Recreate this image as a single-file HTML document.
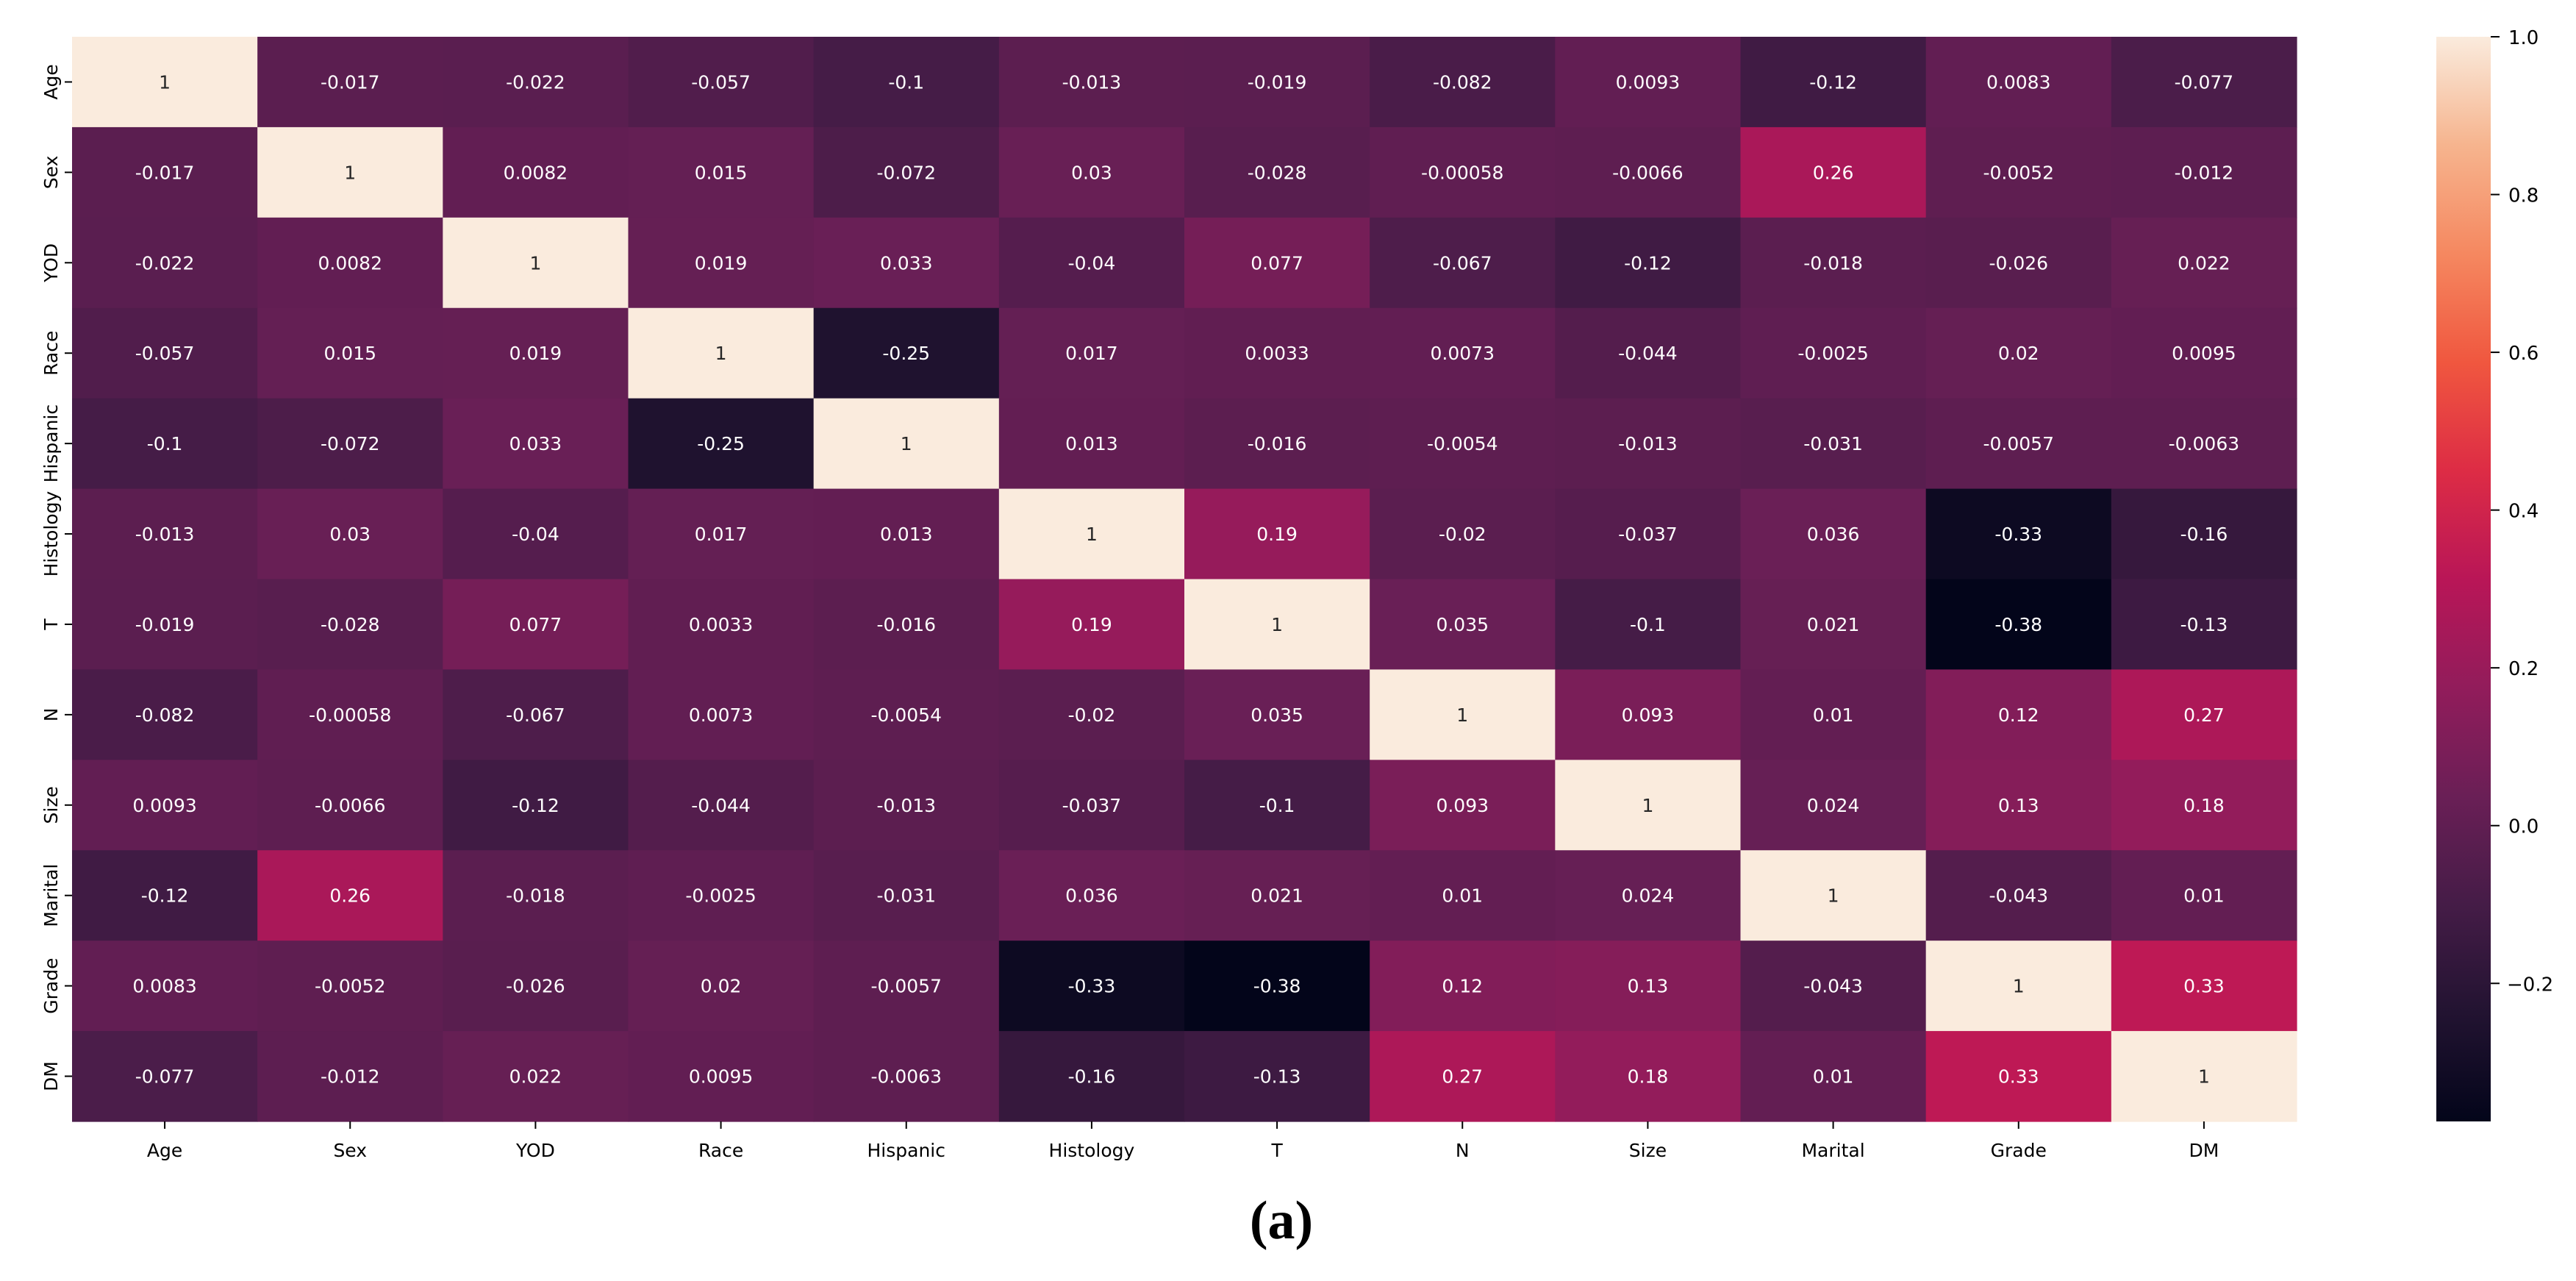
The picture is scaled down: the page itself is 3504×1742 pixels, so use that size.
<!DOCTYPE html>
<html><head><meta charset="utf-8"><style>
html,body{margin:0;padding:0;background:#fff;}
svg{display:block;}
text{font-family:"DejaVu Sans","Liberation Sans",sans-serif;}
</style></head><body>
<svg id="chart" width="3504" height="1742" viewBox="0 0 3504 1742" xmlns="http://www.w3.org/2000/svg">
<defs>
<linearGradient id="rocket" x1="0" y1="1" x2="0" y2="0">
<stop offset="0" stop-color="#03051a"/><stop offset="0.1" stop-color="#221331"/><stop offset="0.2" stop-color="#451c47"/><stop offset="0.3" stop-color="#6a1f56"/><stop offset="0.4" stop-color="#921c5b"/><stop offset="0.5" stop-color="#b91657"/><stop offset="0.6" stop-color="#dd2c45"/><stop offset="0.7" stop-color="#f0573f"/><stop offset="0.8" stop-color="#f58860"/><stop offset="0.9" stop-color="#f6b48e"/><stop offset="1" stop-color="#faebdd"/>
</linearGradient>
</defs>
<g id="cells"></g>
<g id="axes"></g>
<rect x="3314" y="50" width="74" height="1475" fill="url(#rocket)"/>
<g id="cbar"></g>
<text x="1743" y="1684" text-anchor="middle" font-size="74" font-weight="bold" style="font-family:'Liberation Serif',serif" fill="#000">(a)</text>
</svg>
<script>
const categories = ["Age","Sex","YOD","Race","Hispanic","Histology","T","N","Size","Marital","Grade","DM"];
const rowAge = [1,-0.017,-0.022,-0.057,-0.1,-0.013,-0.019,-0.082,0.0093,-0.12,0.0083,-0.077];
const rowSex = [-0.017,1,0.0082,0.015,-0.072,0.03,-0.028,-0.00058,-0.0066,0.26,-0.0052,-0.012];
const rowYOD = [-0.022,0.0082,1,0.019,0.033,-0.04,0.077,-0.067,-0.12,-0.018,-0.026,0.022];
const rowRace = [-0.057,0.015,0.019,1,-0.25,0.017,0.0033,0.0073,-0.044,-0.0025,0.02,0.0095];
const rowHispanic = [-0.1,-0.072,0.033,-0.25,1,0.013,-0.016,-0.0054,-0.013,-0.031,-0.0057,-0.0063];
const rowHistology = [-0.013,0.03,-0.04,0.017,0.013,1,0.19,-0.02,-0.037,0.036,-0.33,-0.16];
const rowT = [-0.019,-0.028,0.077,0.0033,-0.016,0.19,1,0.035,-0.1,0.021,-0.38,-0.13];
const rowN = [-0.082,-0.00058,-0.067,0.0073,-0.0054,-0.02,0.035,1,0.093,0.01,0.12,0.27];
const rowSize = [0.0093,-0.0066,-0.12,-0.044,-0.013,-0.037,-0.1,0.093,1,0.024,0.13,0.18];
const rowMarital = [-0.12,0.26,-0.018,-0.0025,-0.031,0.036,0.021,0.01,0.024,1,-0.043,0.01];
const rowGrade = [0.0083,-0.0052,-0.026,0.02,-0.0057,-0.33,-0.38,0.12,0.13,-0.043,1,0.33];
const rowDM = [-0.077,-0.012,0.022,0.0095,-0.0063,-0.16,-0.13,0.27,0.18,0.01,0.33,1];
const matrix = [rowAge,rowSex,rowYOD,rowRace,rowHispanic,rowHistology,rowT,rowN,rowSize,rowMarital,rowGrade,rowDM];
const colorbarTicks = [1.0,0.8,0.6,0.4,0.2,0.0,-0.2];
const vmin = -0.375, vmax = 1.0;

const L=98, T=50, R=3124, B=1525;
const n=categories.length, cw=(R-L)/n, ch=(B-T)/n;
const xPos = i => L + i*cw;
const yPos = j => T + j*ch;
const cbTop=50, cbBot=1525, cbX=3314, cbW=74;
const cbY = v => cbTop + (vmax - v)/(vmax - vmin)*(cbBot-cbTop);

const stops=["#03051a","#221331","#451c47","#6a1f56","#921c5b","#b91657","#dd2c45","#f0573f","#f58860","#f6b48e","#faebdd"];
function hex(h){return [1,3,5].map(k=>parseInt(h.substr(k,2),16));}
function color(v){
  let t=(v-vmin)/(vmax-vmin); t=Math.max(0,Math.min(1,t));
  const p=t*10, i=Math.min(9,Math.floor(p)), f=p-i;
  const a=hex(stops[i]), b=hex(stops[i+1]);
  return "rgb("+a.map((c,k)=>Math.round(c+(b[k]-c)*f)).join(",")+")";
}
const NS="http://www.w3.org/2000/svg";
function mk(tag,attrs,parent){const e=document.createElementNS(NS,tag);for(const k in attrs)e.setAttribute(k,attrs[k]);parent.appendChild(e);return e;}
const cells=document.getElementById("cells"), axes=document.getElementById("axes"), cbar=document.getElementById("cbar");

matrix.forEach((row,j)=>{
  row.forEach((v,i)=>{
    const r=mk("rect",{x:xPos(i),y:yPos(j),width:cw+0.6,height:ch+0.6,fill:color(v)},cells);
    
    
    const t=mk("text",{x:xPos(i)+cw/2,y:yPos(j)+ch/2+9,"text-anchor":"middle","font-size":"25",fill:v>0.6?"#262626":"#ffffff"},cells);
    t.textContent=String(v);
    
    
  });
});

categories.forEach((c,i)=>{
  const cx=xPos(i)+cw/2;
  mk("line",{x1:cx,y1:B,x2:cx,y2:B+10,stroke:"#000","stroke-width":"2"},axes);
  const t=mk("text",{x:cx,y:B+48,"text-anchor":"middle","font-size":"25",fill:"#000"},axes);
  t.textContent=c;
  
  
  const cy=yPos(i)+ch/2;
  mk("line",{x1:L-10,y1:cy,x2:L,y2:cy,stroke:"#000","stroke-width":"2"},axes);
  const ty=mk("text",{x:0,y:0,"text-anchor":"middle","font-size":"25",fill:"#000",transform:"translate("+(L-20)+","+cy+") rotate(-90)"},axes);
  ty.textContent=c;
  
  
});

colorbarTicks.forEach(v=>{
  const y=cbY(v);
  mk("line",{x1:cbX+cbW,y1:y,x2:cbX+cbW+12,y2:y,stroke:"#000","stroke-width":"2"},cbar);
  const t=mk("text",{x:cbX+cbW+(v<0?22:24),y:y+10,"font-size":"26",fill:"#000"},cbar);
  t.textContent=(v<0?"\u2212"+Math.abs(v).toFixed(1):v.toFixed(1));
  
  
});
</script>
</body></html>
